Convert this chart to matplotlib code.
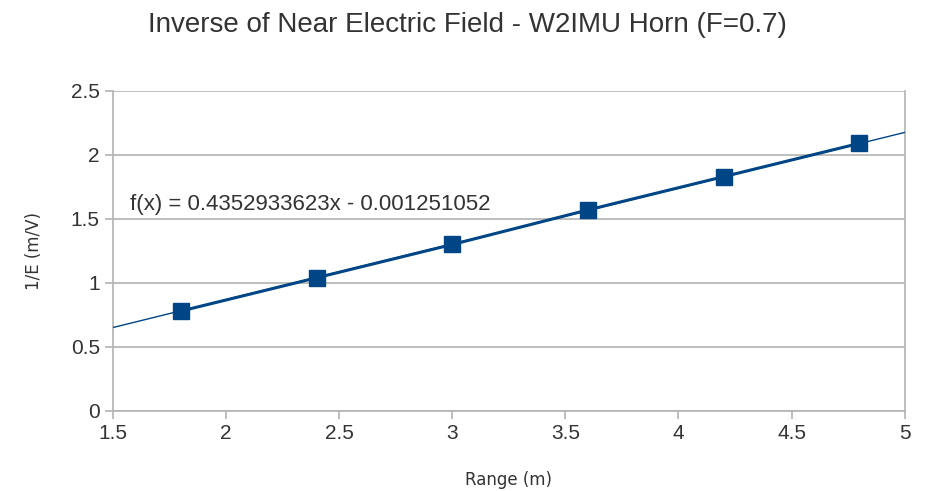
import numpy as np
import matplotlib
matplotlib.use("Agg")
import matplotlib.pyplot as plt

# data
range_m = [1.8, 2.4, 3.0, 3.6, 4.2, 4.8]
inv_e = [0.78, 1.04, 1.30, 1.57, 1.83, 2.09]

# trend line as printed on the chart
slope = 0.4352933623
intercept = -0.001251052

xticks = [1.5, 2, 2.5, 3, 3.5, 4, 4.5, 5]
yticks = [0, 0.5, 1, 1.5, 2, 2.5]

blue = "#004586"
grey = "#b3b3b3"

plt.rcParams['font.family'] = ['Liberation Sans', 'DejaVu Sans']

fig = plt.figure(figsize=(9.26, 4.91), dpi=100)
ax = fig.add_axes([0.122, 0.163, 0.855, 0.652])

xs = np.array([1.5, 5.0])
ax.plot(xs, slope * xs + intercept, color=blue, linewidth=1, zorder=3)
ax.plot(range_m, inv_e, color=blue, linewidth=2.2, marker='s', markersize=12, zorder=4)

ax.text(1.575, 1.61, "f(x) = 0.4352933623x - 0.001251052", fontsize=16, color="#333333",
        va='center', ha='left')

ax.set_xlim(1.5, 5)
ax.set_ylim(0, 2.5)
ax.set_xticks(xticks)
ax.set_xticklabels(["1.5", "2", "2.5", "3", "3.5", "4", "4.5", "5"])
ax.set_yticks(yticks)
ax.set_yticklabels(["0", "0.5", "1", "1.5", "2", "2.5"])
ax.yaxis.grid(True, color=grey, linewidth=1.2)
ax.set_axisbelow(True)
for s in ax.spines.values():
    s.set_color(grey)
    s.set_linewidth(1.2)
ax.spines['top'].set_visible(False)
ax.tick_params(colors=grey, labelcolor="#333333", labelsize=15, length=6, width=1.2)

ax.set_xlabel("Range (m)", fontsize=12, family='DejaVu Sans', color="#333333", labelpad=20)
ax.set_ylabel("1/E (m/V)", fontsize=12, family='DejaVu Sans', color="#333333", labelpad=20)

fig.suptitle("Inverse of Near Electric Field - W2IMU Horn (F=0.7)", fontsize=20,
             color="#333333", y=0.975, x=0.505)

fig.savefig("out.png", dpi=100)
